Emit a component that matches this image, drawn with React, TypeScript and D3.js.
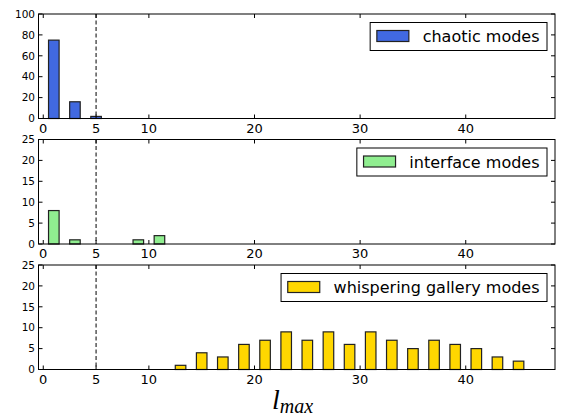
import React from "react";
import * as d3 from "d3";

const binCenters = [1, 3, 5, 7, 9, 11, 13, 15, 17, 19, 21, 23, 25, 27, 29, 31, 33, 35, 37, 39, 41, 43, 45, 47];
const chaoticCounts = [75, 16, 2, 0, 0, 0, 0, 0, 0, 0, 0, 0, 0, 0, 0, 0, 0, 0, 0, 0, 0, 0, 0, 0];
const interfaceCounts = [8, 1, 0, 0, 1, 2, 0, 0, 0, 0, 0, 0, 0, 0, 0, 0, 0, 0, 0, 0, 0, 0, 0, 0];
const wgmCounts = [0, 0, 0, 0, 0, 0, 1, 4, 3, 6, 7, 9, 7, 9, 6, 9, 7, 5, 7, 6, 5, 3, 2, 0];
const xTicks = [0, 5, 10, 20, 30, 40];
const yTicksTop = [0, 20, 40, 60, 80, 100];
const yTicksOther = [0, 5, 10, 15, 20, 25];
const seriesNames = ["chaotic modes", "interface modes", "whispering gallery modes"];
const seriesColors = ["#4169E1", "#90EE90", "#FFD700"];
const yMaxes = [100, 25, 25];
const cutoff = 5;

const W = 565;
const H = 418;
const left = 38.5;
const right = 555;
const panelTop0 = 14;
const panelStep = 125.5;
const panelH = 104.5;

function measure(text: string, font: string): number {
  const c = document.createElement("canvas");
  const ctx = c.getContext("2d");
  if (!ctx) return text.length * 8.6;
  ctx.font = font;
  return ctx.measureText(text).width;
}

const x = d3.scaleLinear().domain([-0.45, 48.45]).range([left, right]);

function Panel({ idx, counts }: { idx: number; counts: number[] }) {
  const top = panelTop0 + idx * panelStep;
  const bottom = top + panelH;
  const y = d3.scaleLinear().domain([0, yMaxes[idx]]).range([bottom, top]);
  const yTicks = idx === 0 ? yTicksTop : yTicksOther;
  const color = seriesColors[idx];
  const name = seriesNames[idx];
  const tw = measure(name, "16px 'DejaVu Sans'");
  const legRight = right - 8;
  const legW = tw + 60;
  const legLeft = legRight - legW;
  const legTop = top + 8.5;
  const legH = 28;
  const tl = 4;
  return (
    <g>
      {counts.map((c, i) =>
        c > 0 ? (
          <rect
            key={i}
            x={x(binCenters[i] - 0.5)}
            y={y(c)}
            width={x(binCenters[i] + 0.5) - x(binCenters[i] - 0.5)}
            height={y(0) - y(c)}
            fill={color}
            stroke="#222"
            strokeWidth={1.2}
          />
        ) : null
      )}
      <line x1={x(cutoff)} x2={x(cutoff)} y1={top} y2={bottom} stroke="#000" strokeWidth={1} strokeDasharray="4,2.5" />
      <rect x={left} y={top} width={right - left} height={panelH} fill="none" stroke="#000" strokeWidth={1} />
      {xTicks.map((t) => (
        <g key={"x" + t}>
          <line x1={x(t)} x2={x(t)} y1={bottom} y2={bottom - tl} stroke="#000" />
          <line x1={x(t)} x2={x(t)} y1={top} y2={top + tl} stroke="#000" />
          <text x={x(t)} y={bottom + 14} textAnchor="middle" fontSize={13} fontFamily="DejaVu Sans" fill="#000">
            {t}
          </text>
        </g>
      ))}
      {yTicks.map((t) => (
        <g key={"y" + t}>
          <line x1={left} x2={left + tl} y1={y(t)} y2={y(t)} stroke="#000" />
          <line x1={right} x2={right - tl} y1={y(t)} y2={y(t)} stroke="#000" />
          <text x={35} y={y(t)} dy="0.36em" textAnchor="end" fontSize={10.5} fontFamily="DejaVu Sans" fill="#000">
            {t}
          </text>
        </g>
      ))}
      <rect x={legLeft} y={legTop} width={legW} height={legH} fill="#fff" stroke="#000" strokeWidth={1} />
      <rect x={legLeft + 6.7} y={legTop + 8} width={32} height={11} fill={color} stroke="#222" strokeWidth={1.2} />
      <text x={legLeft + 52.5} y={legTop + 19.5} fontSize={16} fontFamily="DejaVu Sans" fill="#000">
        {name}
      </text>
    </g>
  );
}

export default function App() {
  const allCounts = [chaoticCounts, interfaceCounts, wgmCounts];
  return (
    <svg width={W} height={H} style={{ position: "absolute", left: 0, top: 0, background: "#fff" }}>
      <rect x={0} y={0} width={W} height={H} fill="#fff" />
      {allCounts.map((c, i) => (
        <Panel key={i} idx={i} counts={c} />
      ))}
      <text x={272} y={409} fontFamily="'Liberation Serif', serif" fontStyle="italic" fontSize={28} fill="#000">
        l
        <tspan fontSize={20} dy={4}>max</tspan>
      </text>
    </svg>
  );
}
